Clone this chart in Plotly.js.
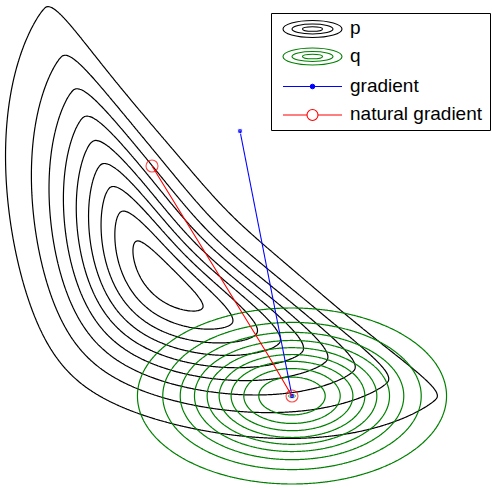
<!DOCTYPE html>
<html>
<head>
<meta charset="utf-8">
<script src="https://cdn.plot.ly/plotly-3.0.1.min.js"></script>
<style>
  html, body { margin: 0; padding: 0; background: #ffffff; }
  #chart { width: 492px; height: 488px; }
</style>
</head>
<body>
<div id="chart"></div>
<script>
// ---- plotting window (data units) ----
const xRange = [-1.64, 3.28];
const yRange = [-2.08, 2.80];
const gridCount = 340;

// ---- target density p: curved (banana) shape in a rotated frame ----
const pMode = [0, 0];
const pAlongStd = 1.3;              // spread along the curved axis
const pRidgeSlope = 0.52;           // slope of the two ridge arms
const pRidgeBend = 0.8;             // rounding of the ridge at the mode
const pConcaveStd = [0.466, 0.175]; // spread on the concave side, and its taper
const pConvexStd = [0.68, 0.02];    // spread on the convex side, and its growth
const pCusp = [0.29, 0.08];         // sharpness of the peak across the ridge, and its rounding
const pLevels = [0.104, 0.208, 0.312, 0.416, 0.520, 0.624, 0.728, 0.832, 0.936];

// ---- approximating Gaussian q ----
const qMean = [1.28, -1.16];
const qStd = [0.72, 0.41];
const qLevels = [0.0999, 0.1998, 0.2997, 0.3996, 0.4995, 0.5994, 0.6993, 0.7992, 0.8991, 0.999];

// ---- optimisation paths of the mean of q ----
const gradX = [0.76, 1.13, 1.25, 1.28];
const gradY = [1.49, -0.40, -0.98, -1.16];
const natX = [-0.12, 0.76, 1.04, 1.28];
const natY = [1.14, -0.30, -0.75, -1.16];

// ---- legend ----
const legendLabels = ['p', 'q', 'gradient', 'natural gradient'];

function pDensity(x, y) {
  const dx = x - pMode[0], dy = y - pMode[1];
  const a = (dx - dy) / Math.SQRT2;
  const b = (dx + dy) / Math.SQRT2;
  const ridge = pRidgeSlope * (Math.sqrt(a * a + pRidgeBend * pRidgeBend) - pRidgeBend);
  const c = b - ridge;
  const s = c > 0 ? pConcaveStd[0] / (1 + pConcaveStd[1] * a * a)
                  : pConvexStd[0] * (1 + pConvexStd[1] * a * a);
  const absC = Math.sqrt(c * c + pCusp[1] * pCusp[1]) - pCusp[1];
  return Math.exp(-0.5 * (a / pAlongStd) ** 2 - 0.5 * (c / s) ** 2 - pCusp[0] * absC);
}

function qDensity(x, y) {
  const u = (x - qMean[0]) / qStd[0];
  const v = (y - qMean[1]) / qStd[1];
  return Math.exp(-0.5 * (u * u + v * v));
}

const xs = [], ys = [];
for (let i = 0; i < gridCount; i++) {
  xs.push(xRange[0] + (xRange[1] - xRange[0]) * i / (gridCount - 1));
  ys.push(yRange[0] + (yRange[1] - yRange[0]) * i / (gridCount - 1));
}
const zp = ys.map(y => xs.map(x => pDensity(x, y)));
const zq = ys.map(y => xs.map(x => qDensity(x, y)));

function levelSpec(levels) {
  return {
    coloring: 'lines',
    start: levels[0],
    end: levels[levels.length - 1] + 1e-6,
    size: levels[1] - levels[0]
  };
}

const traces = [
  {
    type: 'contour', x: xs, y: ys, z: zp,
    contours: levelSpec(pLevels),
    colorscale: [[0, '#000000'], [1, '#000000']],
    showscale: false, line: { width: 1.2, smoothing: 1 },
    hoverinfo: 'skip', showlegend: false
  },
  {
    type: 'contour', x: xs, y: ys, z: zq,
    contours: levelSpec(qLevels),
    colorscale: [[0, '#008000'], [1, '#008000']],
    showscale: false, line: { width: 1.2, smoothing: 1 },
    hoverinfo: 'skip', showlegend: false
  },
  {
    type: 'scatter', mode: 'lines+markers', x: gradX, y: gradY,
    line: { color: '#0000ff', width: 1.1 },
    marker: { color: '#0000ff', size: gradX.map((_, i) => (i === 0 || i === gradX.length - 1) ? 5.5 : 0) },
    hoverinfo: 'skip', showlegend: false
  },
  {
    type: 'scatter', mode: 'lines+markers', x: natX, y: natY,
    line: { color: '#ff0000', width: 1.1 },
    marker: {
      symbol: 'circle-open', color: '#ff0000', line: { width: 1.1, color: '#ff0000' },
      size: natX.map((_, i) => (i === 0 || i === natX.length - 1) ? 12 : 0)
    },
    hoverinfo: 'skip', showlegend: false
  }
];

// legend drawn in pixel positions converted to paper coordinates
const W = 492, H = 488;
const px = v => v / W;
const py = v => 1 - v / H;
const rowY = [29, 56.5, 86.5, 115];
const iconX = [283, 342];
const iconMid = 312.5;
const shapes = [
  { type: 'rect', xref: 'paper', yref: 'paper', x0: px(271.5), x1: px(490.5), y0: py(130.5), y1: py(13.5),
    line: { color: '#000000', width: 1 }, fillcolor: '#ffffff', layer: 'above' }
];
const ringColors = ['#000000', '#008000'];
[0, 1].forEach(r => {
  const cy = rowY[r];
  [[29.5, 8.5], [20.5, 5], [10, 2.3]].forEach(([rx, ry]) => {
    shapes.push({ type: 'circle', xref: 'paper', yref: 'paper',
      x0: px(iconMid - rx), x1: px(iconMid + rx), y0: py(cy + ry), y1: py(cy - ry),
      line: { color: ringColors[r], width: 1.1 }, layer: 'above' });
  });
});
shapes.push({ type: 'line', xref: 'paper', yref: 'paper', x0: px(iconX[0]), x1: px(iconX[1]), y0: py(rowY[2]), y1: py(rowY[2]),
  line: { color: '#0000ff', width: 1.1 }, layer: 'above' });
shapes.push({ type: 'circle', xref: 'paper', yref: 'paper', x0: px(iconMid - 2.3), x1: px(iconMid + 2.3), y0: py(rowY[2] + 2.3), y1: py(rowY[2] - 2.3),
  line: { color: '#0000ff', width: 1 }, fillcolor: '#0000ff', layer: 'above' });
shapes.push({ type: 'line', xref: 'paper', yref: 'paper', x0: px(iconX[0]), x1: px(iconX[1]), y0: py(rowY[3]), y1: py(rowY[3]),
  line: { color: '#ff0000', width: 1.1 }, layer: 'above' });
shapes.push({ type: 'circle', xref: 'paper', yref: 'paper', x0: px(iconMid - 5.5), x1: px(iconMid + 5.5), y0: py(rowY[3] + 5.5), y1: py(rowY[3] - 5.5),
  line: { color: '#ff0000', width: 1.1 }, fillcolor: '#ffffff', layer: 'above' });

const annotations = legendLabels.map((t, i) => ({
  text: t, xref: 'paper', yref: 'paper', x: px(348), y: py(rowY[i] - 1),
  xanchor: 'left', yanchor: 'middle', showarrow: false,
  font: { family: 'Liberation Sans, Arial, sans-serif', size: 19, color: '#000000' }
}));

const layout = {
  width: W, height: H,
  margin: { l: 0, r: 0, t: 0, b: 0, pad: 0 },
  paper_bgcolor: '#ffffff', plot_bgcolor: '#ffffff',
  xaxis: { range: xRange, visible: false, fixedrange: true },
  yaxis: { range: yRange, visible: false, fixedrange: true },
  showlegend: false,
  shapes: shapes,
  annotations: annotations
};

Plotly.newPlot('chart', traces, layout, { staticPlot: true, displayModeBar: false });
</script>
</body>
</html>
